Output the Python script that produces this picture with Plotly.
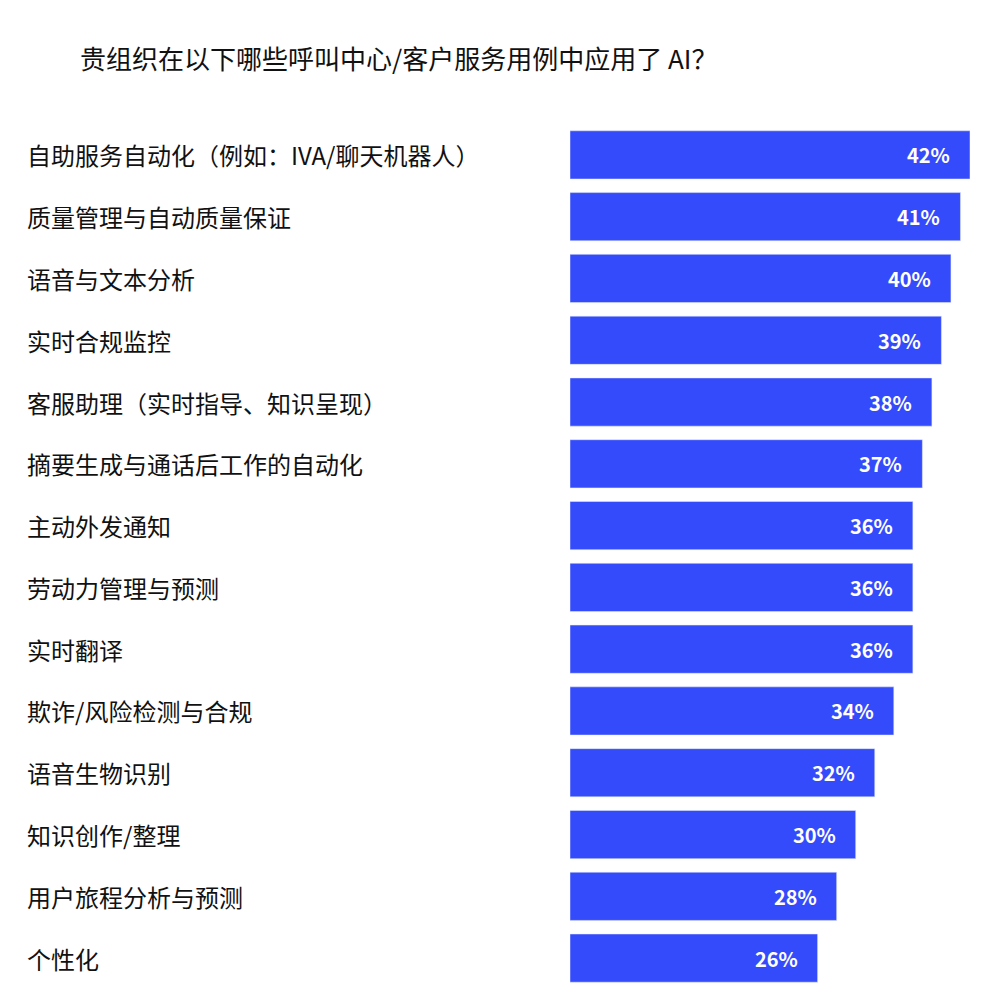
import plotly.graph_objects as go

categories = ["自助服务自动化（例如：IVA/聊天机器人）","质量管理与自动质量保证","语音与文本分析","实时合规监控",
"客服助理（实时指导、知识呈现）","摘要生成与通话后工作的自动化","主动外发通知","劳动力管理与预测","实时翻译",
"欺诈/风险检测与合规","语音生物识别","知识创作/整理","用户旅程分析与预测","个性化"]
values = [42,41,40,39,38,37,36,36,36,34,32,30,28,26]

font = "Noto Sans CJK SC"
fig = go.Figure(go.Bar(x=values, y=categories, orientation="h", marker_color="#344BFB",
                       width=0.78, hoverinfo="skip"))
ann = []
for c, v in zip(categories, values):
    ann.append(dict(x=v, y=c, xref="x", yref="y", text=f"<b>{v}%</b>", showarrow=False,
                    xanchor="right", xshift=-18, font=dict(family=font, size=20, color="white")))
    ann.append(dict(x=(17-562)/400, y=c, xref="paper", yref="y", text=c, showarrow=False,
                    xanchor="left", font=dict(family=font, size=24, color="#111")))
ann.append(dict(x=(70-562)/400, y=(1000-50-19)/865, xref="paper", yref="paper",
                text="贵组织在以下哪些呼叫中心/客户服务用例中应用了 AI？", showarrow=False,
                xanchor="left", yanchor="middle", font=dict(family=font, size=26, color="#111")))
fig.update_layout(width=1000, height=1000, margin=dict(l=562, r=38, t=116, b=19),
                  plot_bgcolor="white", paper_bgcolor="white", showlegend=False, annotations=ann,
                  xaxis=dict(range=[0,42], visible=False),
                  yaxis=dict(autorange="reversed", visible=False, range=None))
fig.write_html("out.html")
